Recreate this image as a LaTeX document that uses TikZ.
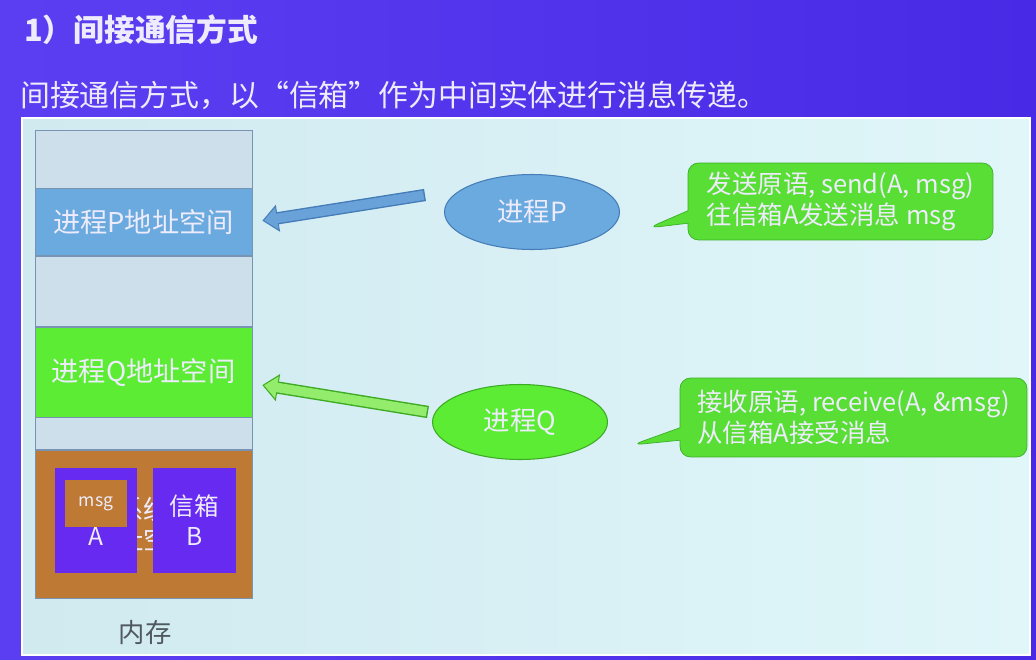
\documentclass[tikz,border=0pt]{standalone}
\usepackage{fontspec}
\setmainfont{Noto Sans CJK SC}
\usepackage{tikz}
\usetikzlibrary{arrows.meta,positioning,calc,shapes.geometric,shapes.callouts}
\definecolor{slideviolet}{RGB}{92,62,242}
\definecolor{slideviolet2}{RGB}{72,42,230}
\definecolor{titlewhite}{RGB}{238,236,252}
\definecolor{panelcyan}{RGB}{208,234,240}
\definecolor{panelcyan2}{RGB}{224,246,249}
\definecolor{memgrey}{RGB}{205,223,234}
\definecolor{memline}{RGB}{120,148,178}
\definecolor{pblue}{RGB}{106,170,222}
\definecolor{pblueline}{RGB}{70,125,185}
\definecolor{qgreen}{RGB}{92,236,52}
\definecolor{qgreenline}{RGB}{60,170,35}
\definecolor{tipgreen}{RGB}{88,222,52}
\definecolor{tipgreenline}{RGB}{60,175,40}
\definecolor{sysorange}{RGB}{190,122,52}
\definecolor{boxviolet}{RGB}{102,42,240}
\definecolor{arrowblue}{RGB}{104,162,216}
\definecolor{arrowgreen}{RGB}{148,236,108}
\definecolor{memtext}{RGB}{80,88,96}
\tikzset{
  memrow/.style={draw=memline, fill=memgrey, minimum width=43.4mm, inner sep=0pt,
    align=center, text=titlewhite, font=\fontsize{15.5}{17}\selectfont},
  mailbox/.style={fill=boxviolet, minimum width=16.6mm, minimum height=21mm,
    align=center, text=titlewhite, font=\fontsize{14}{17}\selectfont},
  msgbox/.style={fill=sysorange, minimum width=12.4mm, minimum height=9.4mm,
    text=titlewhite, font=\fontsize{10}{12}\selectfont},
  procnode/.style={ellipse, minimum width=35mm, minimum height=15mm, semithick,
    text=titlewhite, font=\fontsize{15}{18}\selectfont},
  tipbox/.style={rectangle callout, rounded corners=6pt, fill=tipgreen, draw=tipgreenline,
    align=left, text=titlewhite, inner sep=0pt, font=\fontsize{14.5}{18}\selectfont},
  arrowrim/.style={line width=7pt, -{Triangle[length=9pt,width=15pt]}, draw=#1},
  arrowcore/.style={line width=5.4pt, -{Triangle[length=7.4pt,width=12.2pt]}, draw=#1,
    shorten >=1pt, shorten <=0.8pt}
}
\begin{document}
\begin{tikzpicture}[x=0.02cm, y=-0.02cm, node distance=0pt]
% slide background and headings
\shade[left color=slideviolet, right color=slideviolet2] (0,0) rectangle (1036,660);
\node[anchor=west, text=titlewhite, font=\bfseries\fontsize{17.5}{20}\selectfont] (title) at (18,30) {1）间接通信方式};
\node[anchor=west, text=titlewhite, font=\fontsize{17}{20}\selectfont] (intro) at (14,95) {间接通信方式，以“信箱”作为中间实体进行消息传递。};
\shadedraw[draw=white, line width=1.2pt, left color=panelcyan, right color=panelcyan2] (22,118) rectangle (1030,655);

% memory column
\node[memrow, minimum height=11.6mm] (memtop) at (143.5,159) {};
\node[memrow, fill=pblue, minimum height=13.4mm, below=of memtop] (memP) {进程P地址空间};
\node[memrow, minimum height=14mm, below=of memP] (memgap1) {};
\node[memrow, fill=qgreen, minimum height=18mm, below=of memgap1] (memQ) {进程Q地址空间};
\node[memrow, minimum height=6.4mm, below=of memQ] (memgap2) {};
\node[memrow, fill=sysorange, minimum height=29.6mm, font=\fontsize{15}{17}\selectfont, below=of memgap2] (memsys) {系统\\地址空间};
\node[mailbox] (boxA) at (96,520.5) {\strut\\A};
\node[mailbox] (boxB) at (194.5,520.5) {信箱\\B};
\node[msgbox] (msg) at (96,503.5) {msg};
\node[text=memtext, font=\fontsize{15}{18}\selectfont] (memlabel) at (145,633) {内存};

% processes
\node[procnode, fill=pblue, draw=pblueline] (procP) at (532,212) {进程P};
\node[procnode, fill=qgreen, draw=qgreenline] (procQ) at (520,422) {进程Q};
\coordinate (pTail) at (425,195);
\coordinate (qTail) at (428,412);
\draw[arrowrim=pblueline] (pTail) -- ($(memP.east)+(10,-1.5)$);
\draw[arrowcore=arrowblue] (pTail) -- ($(memP.east)+(10,-1.5)$);
\draw[arrowrim=qgreenline] (qTail) -- ($(memQ.east)+(10,13)$);
\draw[arrowcore=arrowgreen] (qTail) -- ($(memQ.east)+(10,13)$);

% primitives
\node[tipbox, minimum width=61mm, minimum height=15.4mm, callout absolute pointer={(648,228)}] (tipP) at (840.5,201.5) {发送原语, send(A, msg)\\往信箱A发送消息 msg};
\node[tipbox, minimum width=69.4mm, minimum height=15.8mm, callout absolute pointer={(632,445)}] (tipQ) at (853.5,417.5) {接收原语, receive(A, \&msg)\\从信箱A接受消息};
\end{tikzpicture}
\end{document}
